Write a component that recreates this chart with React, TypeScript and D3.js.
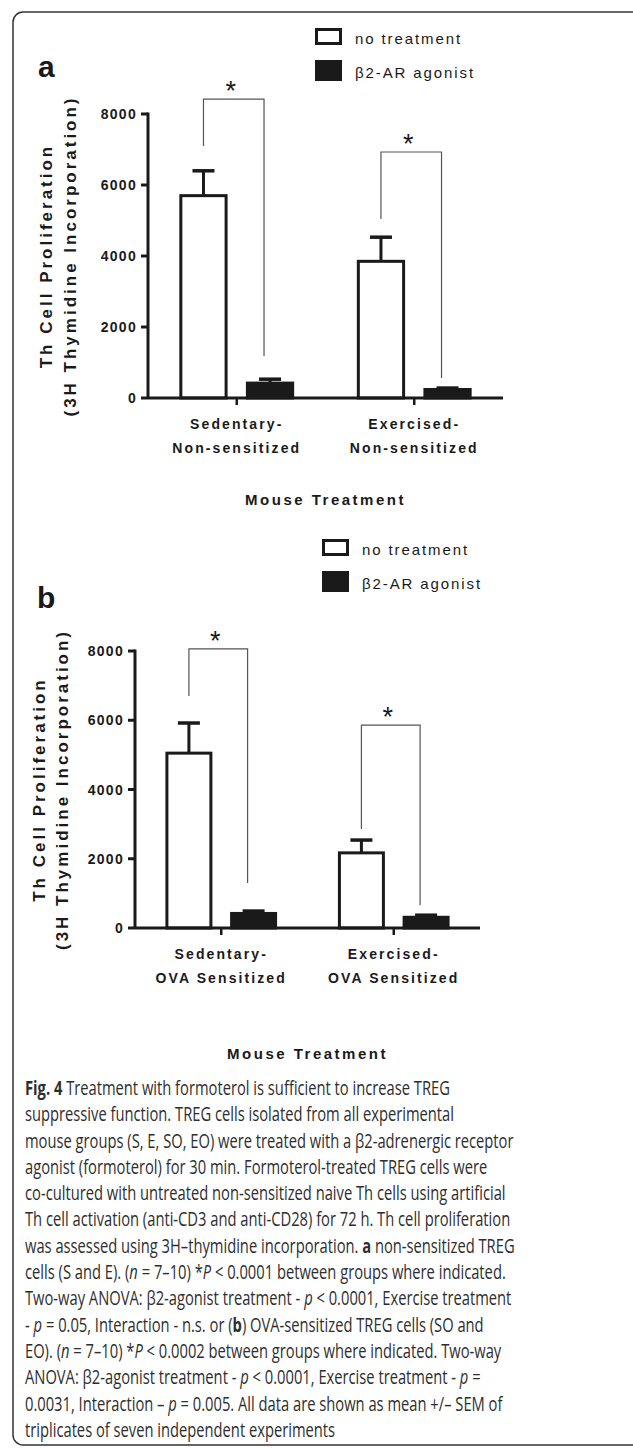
import React, { useEffect, useRef } from "react";
import * as d3 from "d3";

const W = 633;
const H = 1449;

const series = ["no treatment", "β2-AR agonist"];
const groupTop = ["Sedentary-", "Exercised-"];
const groupBottomA = ["Non-sensitized", "Non-sensitized"];
const groupBottomB = ["OVA Sensitized", "OVA Sensitized"];
const yTicks = [0, 2000, 4000, 6000, 8000];

// means and SEM (3H thymidine counts), one entry per group
const meanNoTreatA = [5700, 3850];
const meanAgonistA = [420, 240];
const semNoTreatA = [700, 680];
const semAgonistA = [110, 40];

const meanNoTreatB = [5050, 2170];
const meanAgonistB = [420, 310];
const semNoTreatB = [870, 370];
const semAgonistB = [70, 60];

// significance brackets in data units: [left end, top, right end]
const bracketA = [[7100, 8420, 1180], [5040, 6930, 560]];
const bracketB = [[6700, 8060, 1300], [2860, 5860, 660]];

const captionLines = [
  "^Fig. 4^ Treatment with formoterol is sufficient to increase TREG",
  "suppressive function. TREG cells isolated from all experimental",
  "mouse groups (S, E, SO, EO) were treated with a β2-adrenergic receptor",
  "agonist (formoterol) for 30 min. Formoterol-treated TREG cells were",
  "co-cultured with untreated non-sensitized naive Th cells using artificial",
  "Th cell activation (anti-CD3 and anti-CD28) for 72 h. Th cell proliferation",
  "was assessed using 3H–thymidine incorporation. ^a^ non-sensitized TREG",
  "cells (S and E). (~n~ = 7–10) *~P~ < 0.0001 between groups where indicated.",
  "Two-way ANOVA: β2-agonist treatment - ~p~ < 0.0001, Exercise treatment",
  "- ~p~ = 0.05, Interaction - n.s. or (^b^) OVA-sensitized TREG cells (SO and",
  "EO). (~n~ = 7–10) *~P~ < 0.0002 between groups where indicated. Two-way",
  "ANOVA: β2-agonist treatment - ~p~ < 0.0001, Exercise treatment - ~p~ =",
  "0.0031, Interaction – ~p~ = 0.005. All data are shown as mean +/– SEM of",
  "triplicates of seven independent experiments",
];

const panels = [
  {
    label: "a", means: [meanNoTreatA, meanAgonistA], sems: [semNoTreatA, semAgonistA],
    brackets: bracketA, bottomLabels: groupBottomA,
    left: 148, right: 503, top: 114, bottom: 398,
    labelX: 38, labelY: 77, legendX: 315, legendY: 28, titleX: [46, 70], xTitleDy: 107,
  },
  {
    label: "b", means: [meanNoTreatB, meanAgonistB], sems: [semNoTreatB, semAgonistB],
    brackets: bracketB, bottomLabels: groupBottomB,
    left: 135, right: 480, top: 651, bottom: 928,
    labelX: 37, labelY: 608, legendX: 322, legendY: 539, titleX: [39, 62], xTitleDy: 131,
  },
];

const ink = "#1a1a1a";
const chartFont = "'Liberation Sans', Arial, sans-serif";

function drawPanel(svg, p) {
  const g = svg.append("g").attr("font-family", chartFont).attr("fill", ink);

  const y = d3.scaleLinear().domain([0, 8000]).range([p.bottom, p.top]);
  const x = d3.scalePoint().domain(groupTop).range([p.left, p.right]).padding(0.5);
  const step = x.step();
  const xs = d3.scaleBand().domain(series).range([-0.315 * step, 0.315 * step]).paddingInner(0.32);
  const bw = xs.bandwidth();

  // panel letter
  g.append("text").attr("x", p.labelX).attr("y", p.labelY)
    .attr("font-size", 30).attr("font-weight", "bold").text(p.label);

  // legend
  const lg = g.append("g");
  series.forEach((s, i) => {
    const by = p.legendY + i * 32;
    const bh = i === 0 ? 17 : 21;
    if (i === 0) {
      lg.append("rect").attr("x", p.legendX + 1.5).attr("y", by + 1.5)
        .attr("width", 24).attr("height", bh - 3)
        .attr("fill", "white").attr("stroke", ink).attr("stroke-width", 3);
    } else {
      lg.append("rect").attr("x", p.legendX).attr("y", by)
        .attr("width", 27).attr("height", bh).attr("fill", ink);
    }
    lg.append("text").attr("x", p.legendX + 40).attr("y", by + bh / 2 + 7)
      .attr("font-size", 15).attr("letter-spacing", 1.9).text(s);
  });

  // bars
  series.forEach((s, si) => {
    groupTop.forEach((gName, gi) => {
      const cx = x(gName) + xs(s) + bw / 2;
      const v = p.means[si][gi];
      const e = p.sems[si][gi];
      g.append("line").attr("x1", cx).attr("x2", cx).attr("y1", y(v)).attr("y2", y(v + e))
        .attr("stroke", ink).attr("stroke-width", 3);
      g.append("line").attr("x1", cx - 11).attr("x2", cx + 11).attr("y1", y(v + e)).attr("y2", y(v + e))
        .attr("stroke", ink).attr("stroke-width", 3.5);
      g.append("rect").attr("x", cx - bw / 2).attr("y", y(v))
        .attr("width", bw).attr("height", y(0) - y(v))
        .attr("fill", si === 0 ? "white" : ink).attr("stroke", ink).attr("stroke-width", 3);
    });
  });

  // axes
  g.append("line").attr("x1", p.left).attr("x2", p.left).attr("y1", y(8000) - 1.5).attr("y2", y(0))
    .attr("stroke", ink).attr("stroke-width", 3);
  g.append("line").attr("x1", p.left).attr("x2", p.right).attr("y1", y(0)).attr("y2", y(0))
    .attr("stroke", ink).attr("stroke-width", 3);
  yTicks.forEach(t => {
    g.append("line").attr("x1", p.left - 7).attr("x2", p.left).attr("y1", y(t)).attr("y2", y(t))
      .attr("stroke", ink).attr("stroke-width", 3);
    g.append("text").attr("x", p.left - 11).attr("y", y(t)).attr("dy", "0.36em")
      .attr("text-anchor", "end").attr("font-size", 14).attr("font-weight", "bold")
      .attr("letter-spacing", 1.3).text(t);
  });
  groupTop.forEach((gName, gi) => {
    const cx = x(gName);
    g.append("line").attr("x1", cx).attr("x2", cx).attr("y1", y(0)).attr("y2", y(0) + 7)
      .attr("stroke", ink).attr("stroke-width", 2.5);
    g.append("text").attr("x", cx).attr("y", y(0) + 31).attr("text-anchor", "middle")
      .attr("font-size", 14).attr("font-weight", "bold").attr("letter-spacing", 2.1).text(gName);
    g.append("text").attr("x", cx).attr("y", y(0) + 55).attr("text-anchor", "middle")
      .attr("font-size", 14).attr("font-weight", "bold").attr("letter-spacing", 2.1).text(p.bottomLabels[gi]);
  });

  // axis titles
  const cy = (p.top + p.bottom) / 2;
  ["Th Cell Proliferation", "(3H Thymidine Incorporation)"].forEach((t, i) => {
    g.append("text").attr("transform", `translate(${p.titleX[i]},${cy}) rotate(-90)`)
      .attr("dy", "0.36em").attr("text-anchor", "middle")
      .attr("font-size", 17).attr("font-weight", "bold").attr("letter-spacing", 3).text(t);
  });
  g.append("text").attr("x", (p.left + p.right) / 2).attr("y", y(0) + p.xTitleDy)
    .attr("text-anchor", "middle").attr("font-size", 15).attr("font-weight", "bold")
    .attr("letter-spacing", 2.5).text("Mouse Treatment");

  // significance brackets
  p.brackets.forEach((b, gi) => {
    const gName = groupTop[gi];
    const lx = x(gName) + xs(series[0]) + bw / 2;
    const rx = x(gName) + xs(series[1]) + bw / 2 - 6;
    const path = d3.path();
    path.moveTo(lx, y(b[0]));
    path.lineTo(lx, y(b[1]));
    path.lineTo(rx, y(b[1]));
    path.lineTo(rx, y(b[2]));
    g.append("path").attr("d", path.toString()).attr("fill", "none")
      .attr("stroke", "#555").attr("stroke-width", 1.2);
    g.append("text").attr("x", (lx + rx) / 2 - 3).attr("y", y(b[1]) + 1)
      .attr("text-anchor", "middle").attr("font-size", 27).text("*");
  });
}

function drawCaption(svg) {
  const cg = svg.append("g").attr("font-family", "'Open Sans', sans-serif")
    .attr("font-size", 20).attr("fill", "#2e2e2e");
  const texts = captionLines.map((line, i) => {
    const t = cg.append("text").attr("x", 0).attr("y", 1095 + i * 26.3);
    line.split(/(\^[^^]*\^|~[^~]*~)/).filter(s => s.length).forEach(tok => {
      if (tok[0] === "^") t.append("tspan").attr("font-weight", "bold").text(tok.slice(1, -1));
      else if (tok[0] === "~") t.append("tspan").attr("font-style", "italic").text(tok.slice(1, -1));
      else t.append("tspan").text(tok);
    });
    return t;
  });
  const widest = d3.max(texts, t => t.node().getComputedTextLength()) || 490;
  cg.attr("transform", `translate(25,0) scale(${490 / widest},1)`);
}

export default function App() {
  const ref = useRef(null);

  useEffect(() => {
    document.body.style.margin = "0";
    const svg = d3.select(ref.current);
    svg.selectAll("*").remove();

    svg.append("rect").attr("x", 13).attr("y", 12).attr("width", 640).attr("height", 1433)
      .attr("rx", 10).attr("fill", "white").attr("stroke", "#333").attr("stroke-width", 1.5);

    panels.forEach(p => drawPanel(svg, p));
    drawCaption(svg);
  }, []);

  return <svg ref={ref} width={W} height={H} style={{ display: "block", background: "white" }} />;
}
